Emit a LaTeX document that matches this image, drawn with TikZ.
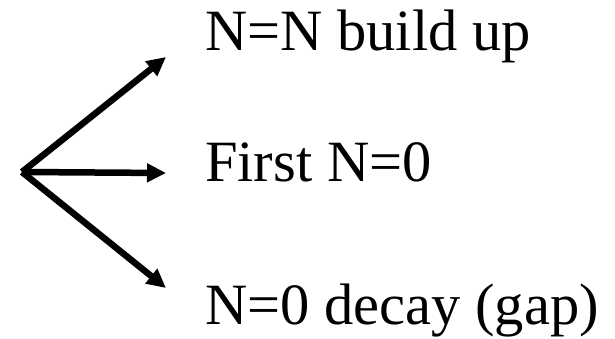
\documentclass[tikz,border=0pt]{standalone}
\usepackage{fontspec}
\setmainfont{Liberation Serif}
\usetikzlibrary{arrows.meta}
\begin{document}
\begin{tikzpicture}[x=1pt,y=1pt,
  lbl/.style={anchor=base west,inner sep=0pt,font=\fontsize{58.5}{62}\selectfont},
  arr/.style={line width=6.5pt,-{Triangle[length=19pt,width=18pt]}}]
\useasboundingbox (0,0) rectangle (615,339);
\coordinate (o) at (22,167);
\coordinate (e1) at (166,282);
\coordinate (e2) at (166,166);
\coordinate (e3) at (166,51);
\node[lbl] (t1) at (205,288) {N=N build up};
\node[lbl] (t2) at (205,157) {First N=0};
\node[lbl] (t3) at (205,14) {N=0 decay (gap)};
\draw[arr] (o) -- (e1);
\draw[arr] (o) -- (e2);
\draw[arr] (o) -- (e3);
\end{tikzpicture}
\end{document}
